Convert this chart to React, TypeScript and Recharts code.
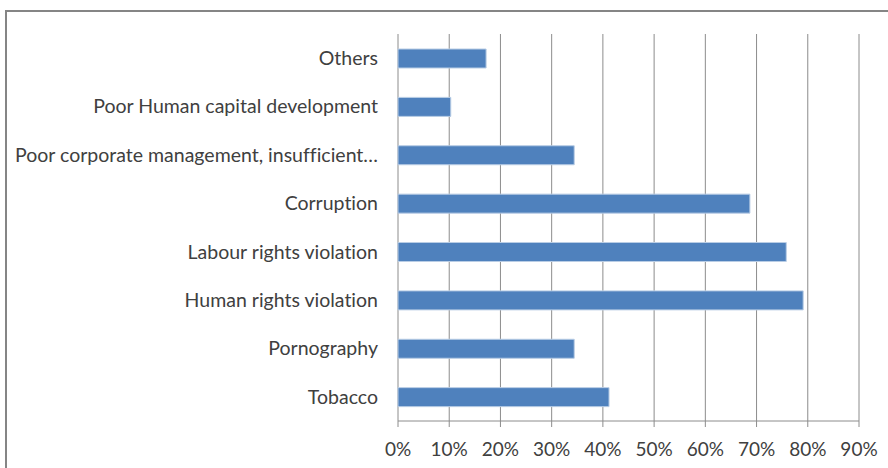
import { BarChart, Bar, XAxis, YAxis, CartesianGrid } from "recharts";

const categories = [
  "Others",
  "Poor Human capital development",
  "Poor corporate management, insufficient…",
  "Corruption",
  "Labour rights violation",
  "Human rights violation",
  "Pornography",
  "Tobacco",
];

const shares = [17.2, 10.3, 34.4, 68.7, 75.8, 79.1, 34.4, 41.2];

const xTicks = [0, 10, 20, 30, 40, 50, 60, 70, 80, 90];

// boundaries between the category bands, used for the Excel-style tick marks
const bandEdges = [0, 1, 2, 3, 4, 5, 6, 7, 8];

const data = categories.map((name, i) => ({ name, value: shares[i] }));

const font = "Lato, 'Open Sans', sans-serif";
const textColor = "#404040";
const lineColor = "#8c8c8c";

export default function App() {
  return (
    <div
      style={{
        position: "fixed",
        left: 0,
        top: 0,
        width: 888,
        height: 468,
        overflow: "hidden",
        background: "#fff",
        fontVariantLigatures: "none",
      }}
    >
      <div
        style={{
          position: "absolute",
          left: 5,
          top: 10,
          width: 920,
          height: 520,
          border: "2px solid #858585",
        }}
      />
      <div style={{ position: "absolute", left: 0, top: 0 }}>
        <BarChart
          width={888}
          height={468}
          data={data}
          layout="vertical"
          margin={{ top: 34, right: 29, bottom: 0, left: 0 }}
        >
          <CartesianGrid
            horizontal={false}
            stroke={lineColor}
            strokeWidth={1}
          />
          <XAxis
            type="number"
            domain={[0, 90]}
            ticks={xTicks}
            interval={0}
            tickFormatter={(v: number) => `${v}%`}
            axisLine={{ stroke: lineColor }}
            tickLine={{ stroke: lineColor }}
            tickSize={6}
            tickMargin={16}
            tick={{ fill: textColor, fontSize: 19, fontFamily: font }}
            height={47}
          />
          <YAxis
            type="number"
            domain={[0, 8]}
            ticks={bandEdges}
            interval={0}
            width={0}
            tick={false}
            tickSize={6}
            axisLine={{ stroke: lineColor }}
            tickLine={{ stroke: lineColor }}
          />
          <YAxis
            yAxisId="cat"
            type="category"
            dataKey="name"
            width={398}
            axisLine={false}
            tickLine={false}
            tickSize={6}
            tickMargin={14}
            interval={0}
            tick={{ fill: textColor, fontSize: 19.5, fontFamily: font }}
          />
          <Bar
            yAxisId="cat"
            dataKey="value"
            fill="#4f81bd"
            stroke="#b9cde5"
            strokeWidth={1}
            barSize={19}
            isAnimationActive={false}
          />
        </BarChart>
      </div>
    </div>
  );
}
